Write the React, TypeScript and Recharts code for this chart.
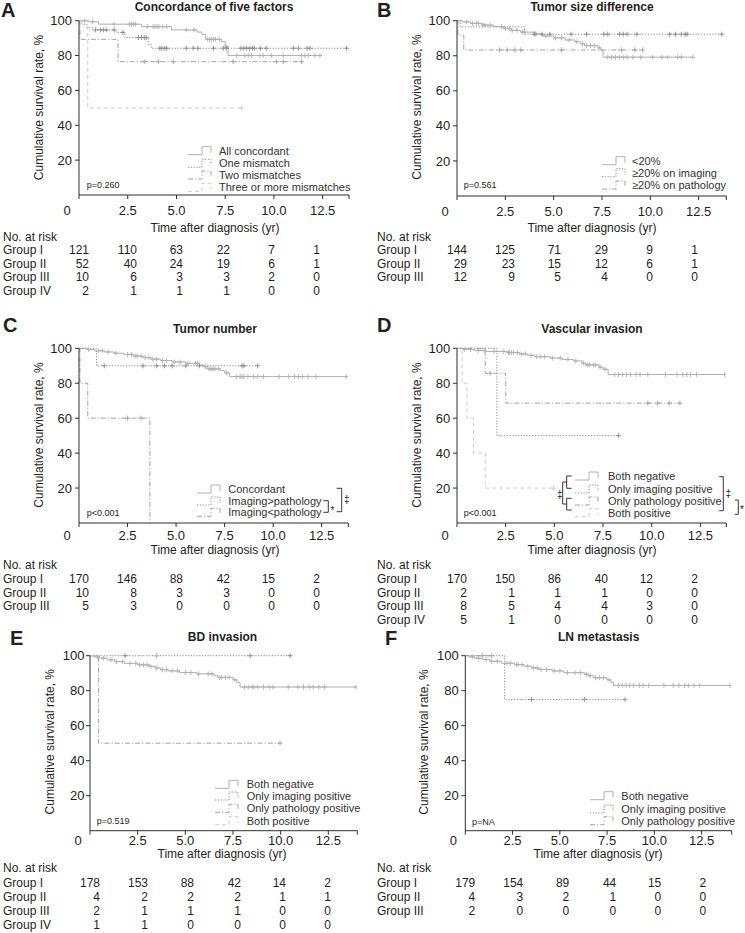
import React from 'react';
import { ComposedChart, Line, XAxis, YAxis } from 'recharts';

const FONT = '"Liberation Sans", Arial, Helvetica, sans-serif';
const INK = '#231f20';
const AXIS = '#2e2e2e';

// shared axis ticks and labels
const xTicks = [0, 2.5, 5, 7.5, 10, 12.5];
const yTicks = [20, 40, 60, 80, 100];
const groupNames = ['Group I', 'Group II', 'Group III', 'Group IV'];
const riskCols = [10, 58, 104, 151, 196, 241];

type Step = [number, number];

// ---------- A: Concordance of five factors ----------
const aLegend = ['All concordant', 'One mismatch', 'Two mismatches', 'Three or more mismatches'];
const aSteps1: Step[] = [[0, 100], [0.5, 99.4], [1.0, 98], [3.2, 96.6], [4.75, 94.7], [6.05, 93.5], [6.3, 92], [6.5, 89.3], [7.3, 88], [7.5, 85], [7.65, 80]];
const aCens1 = [0.3, 0.7, 1.8, 2.6, 2.7, 2.8, 2.9, 3.5, 3.8, 3.9, 4.0, 4.1, 4.3, 4.5, 5.5, 5.9, 6.6, 6.7, 6.8, 6.9, 7.0, 7.2, 7.55, 8.09, 8.5, 8.68, 8.85, 9.28, 9.45, 9.88, 10.48, 11.42, 11.59, 11.76, 12.1, 12.36];
const aSteps2: Step[] = [[0, 100], [0.15, 98], [0.4, 96], [0.7, 94.7], [1.9, 93.3], [2.35, 90.3], [3.55, 86.5], [3.7, 84.2]];
const aCens2 = [0.85, 1.1, 1.25, 1.4, 1.8, 2.25, 3.05, 3.2, 3.35, 3.45, 4.15, 4.25, 4.4, 4.5, 5.5, 5.86, 6.1, 6.9, 7.4, 7.57, 8.3, 8.45, 8.6, 8.75, 8.9, 9.0, 9.3, 9.6, 11.0, 11.25, 11.7, 11.85, 13.73];
const aSteps3: Step[] = [[0, 100], [0.05, 89.3], [2.0, 76.5]];
const aCens3 = [3.38, 4.07, 4.84, 7.9, 10.14, 10.48, 11.42];
const aSteps4: Step[] = [[0, 100], [0.45, 50]];
const aCens4 = [8.35];
const aRisk = [
  [121, 110, 63, 22, 7, 1],
  [52, 40, 24, 19, 6, 1],
  [10, 6, 3, 3, 2, 0],
  [2, 1, 1, 1, 0, 0],
];

// ---------- B: Tumor size difference ----------
const bLegend = ['<20%', '≥20% on imaging', '≥20% on pathology'];
const bSteps1: Step[] = [[0, 100], [0.3, 99.3], [0.7, 98.5], [1.3, 97.5], [1.9, 96.6], [2.4, 95.5], [2.8, 94.5], [3.3, 93.5], [4.0, 92.5], [4.4, 91.3], [5.0, 90.2], [5.6, 89], [6.1, 88], [6.4, 86.8], [6.6, 85.8], [7.3, 84.5], [7.45, 83], [7.55, 79.2]];
const bCens1 = [0.5, 0.8, 1.0, 1.1, 1.35, 1.45, 1.7, 2.3, 2.5, 2.7, 2.85, 3.1, 3.4, 3.5, 4.05, 4.1, 4.6, 5.1, 5.4, 5.8, 6.2, 6.5, 6.7, 6.9, 7.1, 7.35, 7.8, 8.0, 8.2, 8.4, 8.6, 8.8, 9.1, 9.5, 10.1, 10.6, 10.9, 11.4, 11.6, 12.2];
const bSteps2: Step[] = [[0, 100], [0.17, 96.5], [3.5, 92.3]];
const bCens2 = [4.0, 4.4, 4.8, 5.9, 6.7, 7.6, 7.8, 8.4, 8.6, 8.8, 9.3, 11.0, 11.3, 11.6, 11.8, 11.9, 13.7];
const bSteps3: Step[] = [[0, 100], [0.05, 91.7], [0.35, 83.3]];
const bCens3 = [2.2, 2.6, 3.0, 3.3, 5.4, 8.5, 9.2, 9.6];
const bRisk = [
  [144, 125, 71, 29, 9, 1],
  [29, 23, 15, 12, 6, 1],
  [12, 9, 5, 4, 0, 0],
];

// ---------- C: Tumor number ----------
const cLegend = ['Concordant', 'Imaging>pathology', 'Imaging<pathology'];
const cSteps1: Step[] = [[0, 100], [0.4, 99.3], [0.8, 98.6], [1.3, 97.9], [1.8, 97.2], [2.3, 96.5], [2.8, 95.6], [3.3, 94.7], [3.7, 93.8], [4.2, 93], [4.8, 92.2], [5.5, 91.4], [6.2, 90.5], [6.4, 89.5], [6.6, 88.2], [7.3, 87.2], [7.5, 86], [7.75, 83.8]];
const cCens1 = [0.5, 1.0, 1.2, 1.5, 1.9, 2.5, 2.7, 2.9, 3.0, 3.2, 3.4, 3.6, 3.8, 4.0, 4.3, 4.5, 4.9, 5.2, 5.6, 6.0, 6.1, 6.5, 6.7, 6.8, 6.9, 7.0, 7.2, 7.6, 8.1, 8.3, 8.4, 8.5, 8.7, 9.0, 9.2, 9.5, 10.3, 10.8, 11.1, 11.3, 11.5, 11.8, 12.2, 13.76];
const cSteps2: Step[] = [[0, 100], [0.9, 90]];
const cCens2 = [1.3, 3.3, 4.0, 4.4, 4.8, 5.5, 6.2, 8.4, 8.5, 9.2];
const cSteps3: Step[] = [[0, 100], [0.05, 80], [0.45, 60], [3.65, 0]];
const cCens3 = [2.5, 3.2];
const cRisk = [
  [170, 146, 88, 42, 15, 2],
  [10, 8, 3, 3, 0, 0],
  [5, 3, 0, 0, 0, 0],
];

// ---------- D: Vascular invasion ----------
const dLegend = ['Both negative', 'Only imaging positive', 'Only pathology positive', 'Both positive'];
const dSteps1: Step[] = [[0, 100], [0.3, 99.4], [0.9, 98.8], [1.5, 98.2], [2.6, 97.6], [3.2, 96.8], [3.6, 96], [4.0, 95.2], [4.8, 94.4], [5.4, 93.6], [6.0, 92.8], [6.4, 91.5], [6.6, 90.5], [7.3, 89.2], [7.5, 88], [7.76, 85]];
const dCens1 = [0.4, 0.7, 1.1, 1.4, 1.9, 2.4, 2.65, 2.7, 2.8, 2.9, 3.1, 3.3, 3.5, 3.8, 4.1, 4.3, 4.5, 4.9, 5.3, 5.7, 6.1, 6.5, 6.7, 6.8, 7.0, 7.1, 7.35, 7.6, 8.1, 8.3, 8.5, 8.7, 8.9, 9.2, 9.4, 9.8, 10.7, 11.3, 11.6, 11.8, 12.0, 12.3, 13.75];
const dSteps2: Step[] = [[0, 100], [2.05, 50]];
const dCens2 = [8.3];
const dSteps3: Step[] = [[0, 100], [1.45, 85.7], [2.5, 68.6]];
const dCens3 = [1.7, 9.8, 10.3, 10.9, 11.45];
const dSteps4: Step[] = [[0, 100], [0.26, 80], [0.51, 60], [0.85, 40], [1.45, 20]];
const dCens4 = [4.96];
const dRisk = [
  [170, 150, 86, 40, 12, 2],
  [2, 1, 1, 1, 0, 0],
  [8, 5, 4, 4, 3, 0],
  [5, 1, 0, 0, 0, 0],
];

// ---------- E: BD invasion ----------
const eLegend = ['Both negative', 'Only imaging positive', 'Only pathology positive', 'Both positive'];
const eSteps1: Step[] = [[0, 100], [0.2, 99.3], [0.5, 98.6], [0.9, 97.6], [1.3, 96.6], [1.8, 95.6], [2.5, 94.8], [3.1, 93.9], [3.4, 93], [3.7, 92], [4.1, 91.3], [4.7, 90.4], [5.6, 89.6], [6.5, 88.6], [6.7, 87.6], [7.5, 86.2], [7.7, 84.8], [7.87, 82.1]];
const eCens1 = [0.4, 0.7, 1.1, 1.4, 1.7, 2.1, 2.4, 2.6, 2.8, 3.0, 3.2, 3.5, 3.8, 4.0, 4.3, 4.6, 5.0, 5.3, 5.7, 6.2, 6.4, 6.8, 6.9, 7.1, 7.3, 7.6, 8.1, 8.3, 8.5, 8.6, 8.8, 9.1, 9.4, 9.6, 10.4, 10.9, 11.2, 11.5, 11.7, 12.0, 12.3, 13.95];
const eSteps2: Step[] = [[0, 100]];
const eCens2 = [1.84, 3.5, 8.4, 10.5];
const eSteps3: Step[] = [[0, 100], [0.45, 50]];
const eCens3 = [9.97];
const eSteps4: Step[] = [[0, 100]];
const eCens4 = [3.5];
const eRisk = [
  [178, 153, 88, 42, 14, 2],
  [4, 2, 2, 2, 1, 1],
  [2, 1, 1, 1, 0, 0],
  [1, 1, 0, 0, 0, 0],
];

// ---------- F: LN metastasis ----------
const fLegend = ['Both negative', 'Only imaging positive', 'Only pathology positive'];
const fSteps1: Step[] = [[0, 100], [0.2, 99.3], [0.5, 98.6], [0.9, 97.8], [1.3, 96.8], [1.9, 95.7], [2.6, 94.9], [3.1, 94], [3.5, 93], [3.9, 92.1], [4.6, 91.3], [5.2, 90.3], [6.3, 89.5], [6.5, 88.5], [6.8, 87.4], [7.5, 86.2], [7.7, 84.8], [7.84, 83]];
const fCens1 = [0.4, 0.7, 1.1, 1.4, 1.7, 2.2, 2.4, 2.7, 2.8, 3.0, 3.3, 3.6, 3.8, 4.0, 4.3, 4.7, 5.0, 5.4, 5.8, 6.1, 6.4, 6.6, 6.9, 7.1, 7.3, 7.6, 8.1, 8.3, 8.5, 8.7, 8.9, 9.2, 9.4, 9.7, 10.5, 11.0, 11.3, 11.6, 11.8, 12.1, 12.4, 14.0];
const fSteps2: Step[] = [[0, 100], [2.08, 75]];
const fCens2 = [3.5, 6.3, 8.45];
const fSteps3: Step[] = [[0, 100]];
const fCens3 = [0.9, 1.4];
const fRisk = [
  [179, 154, 89, 44, 15, 2],
  [4, 3, 2, 1, 0, 0],
  [2, 0, 0, 0, 0, 0],
];

// ---------- styling ----------
const lineStyles = [
  { stroke: '#b0b0b0', dash: undefined as string | undefined },
  { stroke: '#8a8a8a', dash: '1.2 1.6' },
  { stroke: '#a2a2a2', dash: '5 2 1.2 2' },
  { stroke: '#cccccc', dash: '4 3' },
];

function buildCurve(steps: Step[], censors: number[]) {
  const pts = steps.map(([t, s]) => ({ t, s, c: false }));
  censors.forEach((t) => {
    let s = 100;
    steps.forEach(([st, sv]) => {
      if (st <= t) s = sv;
    });
    pts.push({ t, s, c: true });
  });
  return pts.sort((a, b) => a.t - b.t);
}

type Geo = { x0: number; y0: number; left: number; top: number; bottom: number; right: number; tmax: number; tickDy: number; yGap: number };

type PanelDef = {
  letter: string;
  letterPos: [number, number];
  title: string;
  titlePos: [number, number];
  ylabPos: [number, number];
  xlabPos: [number, number];
  geo: Geo;
  curves: { steps: Step[]; cens: number[] }[];
  legend: string[];
  legendPos: { gx: number; tx: number; rows: number[] };
  pval: string;
  pPos: [number, number];
  risk: number[][];
  riskX: number;
  riskRows: number[];
  extras?: React.ReactNode;
};

const panels: PanelDef[] = [
  {
    letter: 'A', letterPos: [1, 16.5], title: 'Concordance of five factors', titlePos: [214, 11],
    ylabPos: [39, 107.5], xlabPos: [215, 232],
    geo: { x0: 0, y0: 0, left: 79, top: 20.7, bottom: 195, right: 349, tmax: 13.85, tickDy: 19.5, yGap: 7 },
    curves: [{ steps: aSteps1, cens: aCens1 }, { steps: aSteps2, cens: aCens2 }, { steps: aSteps3, cens: aCens3 }, { steps: aSteps4, cens: aCens4 }],
    legend: aLegend, legendPos: { gx: 188, tx: 219, rows: [150.7, 163.3, 175, 187.3] },
    pval: 'p=0.260', pPos: [86.7, 188.2], risk: aRisk, riskX: 3, riskRows: [236.7, 250, 263.5, 277, 290.5],
  },
  {
    letter: 'B', letterPos: [377, 16.5], title: 'Tumor size difference', titlePos: [592, 11],
    ylabPos: [416.7, 107], xlabPos: [592, 232],
    geo: { x0: 372, y0: 0, left: 457, top: 20.7, bottom: 196, right: 726.3, tmax: 13.93, tickDy: 19.5, yGap: 6.7 },
    curves: [{ steps: bSteps1, cens: bCens1 }, { steps: bSteps2, cens: bCens2 }, { steps: bSteps3, cens: bCens3 }],
    legend: bLegend, legendPos: { gx: 602, tx: 632, rows: [160.7, 172.7, 185] },
    pval: 'p=0.561', pPos: [463.7, 188.2], risk: bRisk, riskX: 377, riskRows: [236.7, 250, 263.5, 277],
  },
  {
    letter: 'C', letterPos: [3, 332], title: 'Tumor number', titlePos: [215, 333.3],
    ylabPos: [39, 435], xlabPos: [215, 554],
    geo: { x0: 0, y0: 310, left: 79, top: 348.3, bottom: 523, right: 348.3, tmax: 13.87, tickDy: 17, yGap: 7 },
    curves: [{ steps: cSteps1, cens: cCens1 }, { steps: cSteps2, cens: cCens2 }, { steps: cSteps3, cens: cCens3 }],
    legend: cLegend, legendPos: { gx: 197, tx: 228.3, rows: [489, 501, 512.3] },
    pval: 'p<0.001', pPos: [86.7, 515.5], risk: cRisk, riskX: 3, riskRows: [564.5, 578.5, 592.5, 606],
    extras: (
      <g stroke={INK} strokeWidth={0.9} fill="none">
        <path d="M336.7,488.3 H341.7 V511.7 H336.7" />
        <path d="M323.3,500.7 H328.3 V512.3 H323.3" />
      </g>
    ),
  },
  {
    letter: 'D', letterPos: [377, 332], title: 'Vascular invasion', titlePos: [592, 333.3],
    ylabPos: [417, 435], xlabPos: [592, 554],
    geo: { x0: 372, y0: 310, left: 457, top: 348.3, bottom: 523, right: 726.3, tmax: 13.83, tickDy: 17, yGap: 6.7 },
    curves: [{ steps: dSteps1, cens: dCens1 }, { steps: dSteps2, cens: dCens2 }, { steps: dSteps3, cens: dCens3 }, { steps: dSteps4, cens: dCens4 }],
    legend: dLegend, legendPos: { gx: 575, tx: 608, rows: [476, 489, 501, 512.7] },
    pval: 'p<0.001', pPos: [463.7, 516], risk: dRisk, riskX: 377, riskRows: [564.5, 578.5, 592.5, 606, 620],
    extras: (
      <g stroke={INK} strokeWidth={0.9} fill="none">
        <path d="M571.7,476 H566.7 V488.3 H571.7" />
        <path d="M571.7,498.3 H566.7 V510 H571.7" />
        <path d="M566.7,482 H562.7 V504 H566.7" />
        <path d="M719.3,476.7 H723.3 V510.7 H719.3" />
        <path d="M735,500 H738.3 V514.3 H735" />
      </g>
    ),
  },
  {
    letter: 'E', letterPos: [10, 645], title: 'BD invasion', titlePos: [222.5, 641],
    ylabPos: [50, 741.7], xlabPos: [222, 858],
    geo: { x0: 0, y0: 620, left: 90, top: 655.7, bottom: 830.7, right: 357.3, tmax: 14.02, tickDy: 14.5, yGap: 5.5 },
    curves: [{ steps: eSteps1, cens: eCens1 }, { steps: eSteps2, cens: eCens2 }, { steps: eSteps3, cens: eCens3 }, { steps: eSteps4, cens: eCens4 }],
    legend: eLegend, legendPos: { gx: 215, tx: 246.7, rows: [784.3, 796, 808.3, 820.7] },
    pval: 'p=0.519', pPos: [96.7, 824], risk: eRisk, riskX: 3, riskRows: [868, 882.5, 896.5, 910.5, 924.5],
  },
  {
    letter: 'F', letterPos: [385, 645], title: 'LN metastasis', titlePos: [598.7, 641],
    ylabPos: [423.7, 742], xlabPos: [598, 858],
    geo: { x0: 372, y0: 620, left: 465.3, top: 655.7, bottom: 830.7, right: 731.7, tmax: 14.09, tickDy: 14.5, yGap: 6.6 },
    curves: [{ steps: fSteps1, cens: fCens1 }, { steps: fSteps2, cens: fCens2 }, { steps: fSteps3, cens: fCens3 }],
    legend: fLegend, legendPos: { gx: 590, tx: 621.3, rows: [795.7, 809, 820.7] },
    pval: 'p=NA', pPos: [472, 825], risk: fRisk, riskX: 377, riskRows: [868, 882.5, 896.5, 910.5],
  },
];

function KMChart({ p }: { p: PanelDef }) {
  const g = p.geo;
  const W = g.x0 === 0 ? 372 : 373;
  const H = g.bottom - g.y0 + 30;
  const axisX = g.left - g.x0;
  const axisY = g.bottom - g.y0;

  const xTick = (props: any) => {
    const v = props.payload.value;
    if (v > 12.6) return <g />;
    const x = v === 0 ? props.x - 12 : props.x;
    return (
      <text x={x} y={axisY + g.tickDy} textAnchor="middle" fontSize={13} fontFamily={FONT} fill={INK}>
        {v === 0 ? '0' : v.toFixed(1)}
      </text>
    );
  };
  const yTick = (props: any) => (
    <text x={axisX - g.yGap} y={props.y + 4.6} textAnchor="end" fontSize={13} fontFamily={FONT} fill={INK}>
      {props.payload.value}
    </text>
  );

  return (
    <div style={{ position: 'absolute', left: g.x0, top: g.y0 }}>
      <ComposedChart width={W} height={H} margin={{ top: g.top - g.y0, right: g.x0 + W - g.right, left: 0, bottom: 0 }}>
        <XAxis
          type="number"
          dataKey="t"
          domain={[0, g.tmax]}
          ticks={[...xTicks, g.tmax]}
          interval={0}
          allowDataOverflow
          height={30}
          tickSize={4}
          tick={xTick}
          axisLine={{ stroke: AXIS }}
          tickLine={{ stroke: AXIS }}
        />
        <YAxis
          type="number"
          domain={[0, 100]}
          ticks={yTicks}
          interval={0}
          width={axisX}
          tickSize={4}
          tick={yTick}
          axisLine={{ stroke: AXIS }}
          tickLine={{ stroke: AXIS }}
        />
        {p.curves.map((c, i) => {
          const st = lineStyles[i];
          return (
            <Line
              key={i}
              data={buildCurve(c.steps, c.cens)}
              dataKey="s"
              type="stepAfter"
              stroke={st.stroke}
              strokeWidth={1}
              strokeDasharray={st.dash}
              activeDot={false}
              isAnimationActive={false}
              dot={(d: any) =>
                d.payload.c ? (
                  <path
                    key={`c${i}-${d.index}`}
                    d={`M${d.cx - 2.5},${d.cy}h5M${d.cx},${d.cy - 2.5}v5`}
                    stroke={st.stroke}
                    strokeWidth={0.9}
                    fill="none"
                  />
                ) : (
                  <g key={`n${i}-${d.index}`} />
                )
              }
            />
          );
        })}
      </ComposedChart>
    </div>
  );
}

function PanelText({ p }: { p: PanelDef }) {
  const lp = p.legendPos;
  const axisX = p.geo.left;
  return (
    <g fontFamily={FONT} fill={INK}>
      <text x={p.letterPos[0]} y={p.letterPos[1]} fontSize={20} fontWeight="bold">{p.letter}</text>
      <text x={p.titlePos[0]} y={p.titlePos[1]} fontSize={12} fontWeight="bold" textAnchor="middle">{p.title}</text>
      <text
        x={p.ylabPos[0]}
        y={p.ylabPos[1]}
        fontSize={12}
        textAnchor="middle"
        dominantBaseline="central"
        transform={`rotate(-90 ${p.ylabPos[0]} ${p.ylabPos[1]})`}
      >
        Cumulative survival rate, %
      </text>
      <text x={p.xlabPos[0]} y={p.xlabPos[1]} fontSize={12} textAnchor="middle">Time after diagnosis (yr)</text>
      <text x={p.pPos[0]} y={p.pPos[1]} fontSize={9}>{p.pval}</text>
      {p.legend.map((lab, i) => {
        const y = lp.rows[i];
        const st = lineStyles[i];
        return (
          <g key={lab}>
            <path
              d={`M${lp.gx},${y + 4} H${lp.gx + 14} V${y - 4} H${lp.gx + 23} V${y + 2}`}
              stroke={st.stroke}
              strokeDasharray={st.dash}
              strokeWidth={1}
              fill="none"
            />
            <text x={lp.tx} y={y + 4} fontSize={11} fill="#333">{lab}</text>
          </g>
        );
      })}
      <text x={p.riskX} y={p.riskRows[0] + 4.3} fontSize={12}>No. at risk</text>
      {p.risk.map((row, r) => (
        <g key={r}>
          <text x={p.riskX} y={p.riskRows[r + 1] + 4.3} fontSize={12}>{groupNames[r]}</text>
          {row.map((v, k) => (
            <text key={k} x={axisX + riskCols[k]} y={p.riskRows[r + 1] + 4.3} fontSize={12} textAnchor="end">
              {v}
            </text>
          ))}
        </g>
      ))}
      {p.extras}
    </g>
  );
}

export default function App() {
  return (
    <div style={{ position: 'absolute', left: 0, top: 0, width: 745, height: 933, background: '#fff', overflow: 'hidden' }}>
      {panels.map((p) => (
        <KMChart key={p.letter} p={p} />
      ))}
      <svg width={745} height={933} style={{ position: 'absolute', left: 0, top: 0, pointerEvents: 'none' }}>
        {panels.map((p) => (
          <PanelText key={p.letter} p={p} />
        ))}
        <g fontFamily={FONT} fill={INK} fontSize={10}>
          <text x={344} y={503}>‡</text>
          <text x={330.5} y={514}>*</text>
          <text x={557} y={498}>‡</text>
          <text x={725.5} y={497}>‡</text>
          <text x={740} y={513}>*</text>
        </g>
      </svg>
    </div>
  );
}
